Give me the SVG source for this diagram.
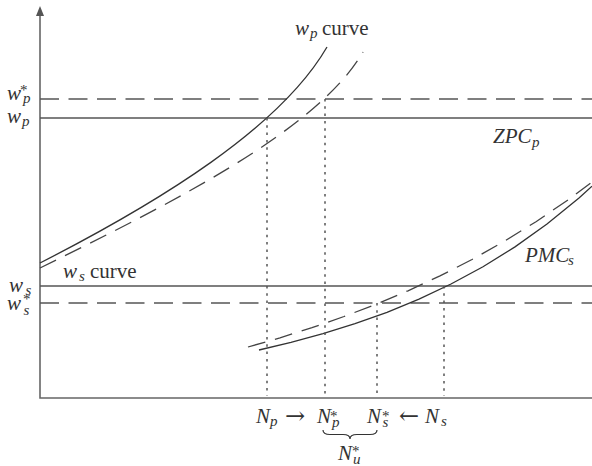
<svg xmlns="http://www.w3.org/2000/svg" width="592" height="466" viewBox="0 0 592 466">
<style>
text{font-family:"Liberation Serif","Times New Roman",serif;font-size:21px;fill:#333}
.it{font-style:italic}
.sm{font-size:15px}
.ar{font-family:"DejaVu Serif","Liberation Serif",serif;font-size:24px}
.axis{stroke:#666;stroke-width:1.6;fill:none}
.hs{stroke:#555;stroke-width:1.6;fill:none}
.hd{stroke:#555;stroke-width:1.5;fill:none;stroke-dasharray:19 9.5}
.cs{stroke:#333;stroke-width:1.3;fill:none}
.cd{stroke:#444;stroke-width:1.3;fill:none;stroke-dasharray:18 10}
.dot{stroke:#555;stroke-width:1.5;fill:none;stroke-dasharray:2.5 4.8}
</style>
<g id="axes">
<path class="axis" d="M40,14 L40,398 L592,398"/>
<polygon points="40,6 36,16 44,16" fill="#555"/>
</g>
<g id="levels">
<line class="hd" x1="40" y1="99" x2="592" y2="99"/>
<line class="hs" x1="40" y1="118" x2="592" y2="118"/>
<line class="hs" x1="40" y1="286" x2="592" y2="286"/>
<line class="hd" x1="40" y1="303" x2="592" y2="303"/>
</g>
<g id="curves">
<path class="cs" d="M40,263 C160,201.6 280,128 327,47"/>
<path class="cd" d="M40,268 C170,204 318,130 363,52"/>
<polyline class="cs" points="259,350 291,342.4 323,333.7 355,323.7 387,312.3 419,299.1 451,284 483,266.7 515,246.9 547,224.1 579,197.9 592,186.2"/>
<polyline class="cd" points="248,347 280,337.8 312,327.7 344,316.5 376,304.3 408,290.8 440,275.9 472,259.5 504,241.5 536,221.7 568,199.9 592,182"/>
</g>
<g id="connectors">
<line class="dot" x1="267" y1="118" x2="267" y2="396"/>
<line class="dot" x1="325" y1="99" x2="325" y2="396"/>
<line class="dot" x1="377" y1="303" x2="377" y2="396"/>
<line class="dot" x1="444" y1="286" x2="444" y2="396"/>
<path d="M323,430 Q323,434.5 330,434.5 L343,434.5 Q350,434.5 350,439 Q350,434.5 357,434.5 L370,434.5 Q377,434.5 377,430" stroke="#333" stroke-width="1.2" fill="none"/>
</g>
<g id="label-wp-star">
<text class="it" x="7" y="100">w</text><text class="it sm" x="23" y="102.5">p</text><text class="sm" x="20" y="95">*</text>
</g>
<g id="label-wp">
<text class="it" x="7" y="123">w</text><text class="it sm" x="22" y="126">p</text>
</g>
<g id="label-ws">
<text class="it" x="9" y="292">w</text><text class="it sm" x="25.5" y="295">s</text>
</g>
<g id="label-ws-star">
<text class="it" x="7" y="310">w</text><text class="it sm" x="23.5" y="315">s</text><text class="sm" x="23" y="304">*</text>
</g>
<g id="label-wp-curve">
<text class="it" x="295" y="35">w</text><text class="it sm" x="310" y="38">p</text><text x="322" y="35">curve</text>
</g>
<g id="label-ws-curve">
<text class="it" x="63" y="278">w</text><text class="it sm" x="79" y="281">s</text><text x="90" y="278">curve</text>
</g>
<g id="label-zpc">
<text class="it" x="493" y="143">ZPC</text><text class="it sm" x="532" y="147">p</text>
</g>
<g id="label-pmc">
<text class="it" x="525" y="262">PMC</text><text class="it sm" x="568" y="265">s</text>
</g>
<g id="label-n">
<text class="it" x="256" y="423">N</text><text class="it sm" x="270" y="426">p</text>
<text class="ar" x="285" y="424">→</text>
<text class="it" x="317" y="423">N</text><text class="it sm" x="332" y="427">p</text><text class="sm" x="330" y="421">*</text>
<text class="it" x="367" y="423">N</text><text class="it sm" x="382.5" y="427">s</text><text class="sm" x="382" y="421">*</text>
<text class="ar" x="399" y="424">←</text>
<text class="it" x="425" y="423">N</text><text class="it sm" x="441" y="426">s</text>
</g>
<g id="label-nu">
<text class="it" x="338" y="460">N</text><text class="it sm" x="353" y="464">u</text><text class="sm" x="352" y="456">*</text>
</g>
</svg>
